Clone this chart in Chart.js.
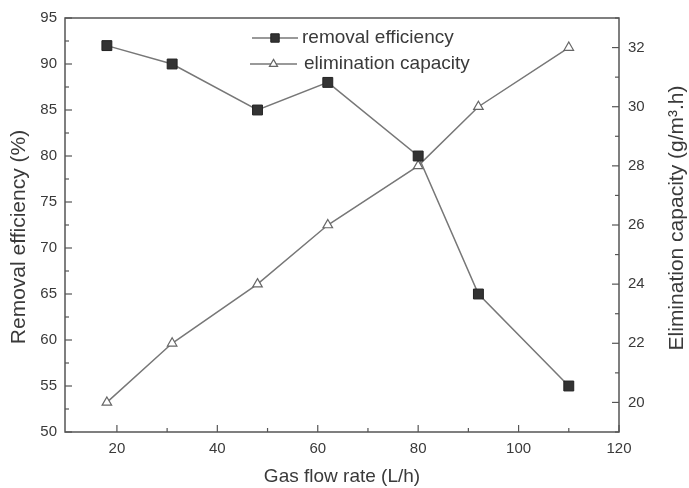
<!DOCTYPE html>
<html>
<head>
<meta charset="utf-8">
<script src="https://cdn.jsdelivr.net/npm/chart.js@4"></script>
<style>
    body { margin: 0; background: #fff; }
    #wrap { width: 689px; height: 488px; }
</style>
</head>
<body>
<div id="wrap"><canvas id="chart"></canvas></div>
<script>
// Data
const flowRate = [18, 31, 48, 62, 80, 92, 110];
const removalEff = [92, 90, 85, 88, 80, 65, 55];
const elimCap = [20, 22, 24, 26, 28, 30, 32];
const rightTicks = [20, 22, 24, 26, 28, 30, 32];

const seriesNames = ["removal efficiency", "elimination capacity"];
const xTitle = "Gas flow rate (L/h)";
const yLeftTitle = "Removal efficiency (%)";
const yRightTitle = "Elimination capacity (g/m\u00B3.h)";

const FONT = "'Liberation Sans', Arial, sans-serif";
const TEXT = "#3a3a3a";
const AXIS = "#555";

// points for a linear x axis
function toPoints(xs, ys) {
    return xs.map((x, i) => ({ x: x, y: ys[i] }));
}

const styleRemoval = {
    pointStyle: "rect", radius: 7, borderWidth: 1,
    backgroundColor: "#333", borderColor: "#222"
};
const styleElim = {
    pointStyle: "triangle", radius: 5.5, borderWidth: 1.2,
    backgroundColor: "#fff", borderColor: "#666"
};

// frame, inward major/minor ticks, legend and vertical titles
const decorations = {
    id: "decorations",
    afterDraw(chart) {
        const { ctx, chartArea: a, scales } = chart;
        ctx.save();
        ctx.strokeStyle = AXIS;
        ctx.lineWidth = 1.5;
        ctx.strokeRect(a.left, a.top, a.right - a.left, a.bottom - a.top);

        ctx.lineWidth = 1.2;
        function tickMarks(scale, step, side, from) {
            for (let v = from; v <= scale.max + 1e-9; v += step / 2) {
                const major = Math.abs(v / step - Math.round(v / step)) < 1e-6;
                const len = major ? 7 : 4;
                const p = scale.getPixelForValue(v);
                ctx.beginPath();
                if (side === "bottom") { ctx.moveTo(p, a.bottom); ctx.lineTo(p, a.bottom - len); }
                if (side === "left") { ctx.moveTo(a.left, p); ctx.lineTo(a.left + len, p); }
                if (side === "right") { ctx.moveTo(a.right, p); ctx.lineTo(a.right - len, p); }
                ctx.stroke();
            }
        }
        tickMarks(scales.x, 20, "bottom", 20);
        tickMarks(scales.y, 5, "left", 50);
        tickMarks(scales.y1, 2, "right", 19);

        // legend
        const rows = [
            { st: styleRemoval, x0: 252, x1: 298, y: 38, tx: 302, label: seriesNames[0] },
            { st: styleElim, x0: 250, x1: 297, y: 64, tx: 304, label: seriesNames[1] }
        ];
        ctx.font = "19px " + FONT;
        ctx.textBaseline = "middle";
        ctx.textAlign = "left";
        rows.forEach(r => {
            ctx.strokeStyle = "#777";
            ctx.lineWidth = 1.5;
            ctx.beginPath();
            ctx.moveTo(r.x0, r.y);
            ctx.lineTo(r.x1, r.y);
            ctx.stroke();
            ctx.fillStyle = r.st.backgroundColor;
            ctx.strokeStyle = r.st.borderColor;
            ctx.lineWidth = r.st.borderWidth;
            Chart.helpers.drawPoint(ctx, { pointStyle: r.st.pointStyle, radius: r.st.radius * 0.85, borderWidth: r.st.borderWidth }, (r.x0 + r.x1) / 2, r.y);
            ctx.fillStyle = TEXT;
            ctx.fillText(r.label, r.tx, r.y);
        });

        // vertical titles, both reading bottom to top
        ctx.font = "21px " + FONT;
        ctx.textAlign = "center";
        ctx.save();
        ctx.translate(19, 237);
        ctx.rotate(-Math.PI / 2);
        ctx.fillText(yLeftTitle, 0, 0);
        ctx.restore();
        ctx.translate(677, 218);
        ctx.rotate(-Math.PI / 2);
        ctx.fillText(yRightTitle, 0, 0);
        ctx.restore();
    }
};

const tickFont = { family: FONT, size: 15 };
const titleFont = { family: FONT, size: 19 };
const noGrid = { display: false, drawTicks: false };

new Chart(document.getElementById("chart"), {
    type: "line",
    data: {
        datasets: [
            {
                label: seriesNames[0],
                data: toPoints(flowRate, removalEff),
                yAxisID: "y",
                borderColor: "#777",
                borderWidth: 1.5,
                pointStyle: styleRemoval.pointStyle,
                pointRadius: styleRemoval.radius,
                pointBackgroundColor: styleRemoval.backgroundColor,
                pointBorderColor: styleRemoval.borderColor,
                pointBorderWidth: styleRemoval.borderWidth
            },
            {
                label: seriesNames[1],
                data: toPoints(flowRate, elimCap),
                yAxisID: "y1",
                borderColor: "#777",
                borderWidth: 1.5,
                pointStyle: styleElim.pointStyle,
                pointRadius: styleElim.radius,
                pointBackgroundColor: styleElim.backgroundColor,
                pointBorderColor: styleElim.borderColor,
                pointBorderWidth: styleElim.borderWidth
            }
        ]
    },
    options: {
        responsive: true,
        maintainAspectRatio: false,
        animation: false,
        layout: { padding: { top: 18, left: 0, right: 0, bottom: 0 } },
        plugins: {
            legend: { display: false },
            tooltip: { enabled: false }
        },
        scales: {
            x: {
                type: "linear",
                min: 9.66,
                max: 120,
                grid: noGrid,
                border: { display: false },
                ticks: { stepSize: 20, includeBounds: false, padding: 8, color: TEXT, font: tickFont, maxRotation: 0 },
                title: { display: true, text: xTitle, color: TEXT, font: titleFont, padding: { top: 0, bottom: 0 } },
                afterFit: s => { s.height = 56; }
            },
            y: {
                position: "left",
                min: 50,
                max: 95,
                grid: noGrid,
                border: { display: false },
                ticks: { stepSize: 5, padding: 8, color: TEXT, font: tickFont },
                afterFit: s => { s.width = 65; }
            },
            y1: {
                position: "right",
                min: 19,
                max: 33,
                grid: noGrid,
                border: { display: false },
                ticks: { padding: 9, color: TEXT, font: tickFont },
                afterBuildTicks: s => { s.ticks = rightTicks.map(v => ({ value: v })); },
                afterFit: s => { s.width = 70; }
            }
        }
    },
    plugins: [decorations]
});
</script>
</body>
</html>
